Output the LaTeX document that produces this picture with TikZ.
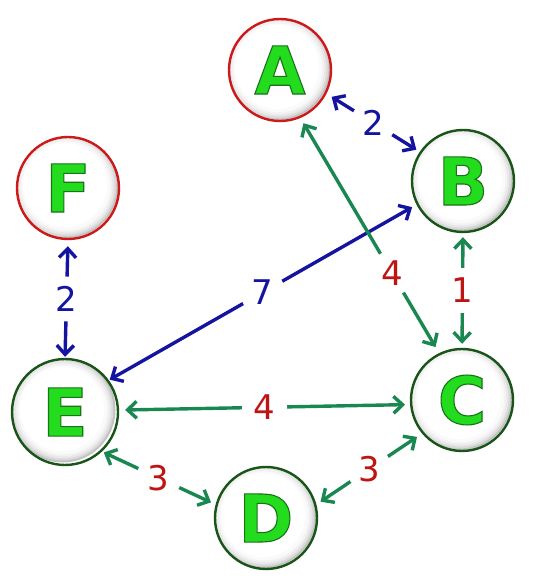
\documentclass[tikz,border=0pt]{standalone}
\usepackage{fontspec}
\setsansfont{DejaVu Sans}
\usetikzlibrary{arrows.meta}
\definecolor{ringgreen}{RGB}{25,85,25}
\definecolor{ringred}{RGB}{205,25,25}
\definecolor{lettergreen}{RGB}{35,220,30}
\definecolor{edgeblue}{RGB}{20,20,160}
\definecolor{edgegreen}{RGB}{25,135,80}
\definecolor{numred}{RGB}{190,20,20}
% green letter with a dark green rim
\newcommand{\rimtext}[1]{\special{pdf:literal direct 0.1 0.45 0.1 RG 1.1 w 2 Tr}#1\special{pdf:literal direct 0 Tr}}

\begin{document}
\begin{tikzpicture}[x=1pt,y=1pt,
  vtx/.style={circle,draw=ringgreen,line width=2.4pt,minimum size=102pt,inner sep=0pt,
    fill=white,text=lettergreen,font=\fontsize{66}{66}\selectfont\sffamily\bfseries,
    path picture={\foreach \r/\g in {1.0/24,0.96/15,0.92/9,0.88/5,0.84/2}
      \fill[black!\g] ([shift={(-2.5*\r,2.5*\r)}]path picture bounding box.center) circle ({\r*53pt});
      \fill[white] ([shift={(-3,3)}]path picture bounding box.center) circle (42pt);}},
  vtxred/.style={vtx,draw=ringred},
  link/.style={line width=3.4pt,{Straight Barb[length=9pt,width=17pt]}-{Straight Barb[length=9pt,width=17pt]}},
  bluelink/.style={link,draw=edgeblue},
  greenlink/.style={link,draw=edgegreen},
  wlab/.style={circle,fill=white,inner sep=0pt,minimum size=45pt,font=\fontsize{34}{34}\selectfont\sffamily},
  bluenum/.style={wlab,text=edgeblue},
  rednum/.style={wlab,text=numred}]
\useasboundingbox (0,0) rectangle (532,580);
% vertices
\node[vtxred] (A) at (280,510) {\rimtext{A}};
\node[vtx] (B) at (463,399) {\rimtext{B}};
\node[vtx] (C) at (462,180) {\rimtext{C}};
\node[vtx] (D) at (266,62) {\rimtext{D}};
\node[vtx,minimum size=106pt] (E) at (65,168) {\rimtext{E}};
\node[vtxred] (F) at (68,392) {\rimtext{F}};
% weighted links
\draw[bluelink,shorten <=6pt,shorten >=4pt] (A.-27) -- node[bluenum] {2} (B.146);
\draw[bluelink,shorten <=6pt,shorten >=1pt] (F.-90) -- node[bluenum] {2} (E.90);
\draw[bluelink,shorten <=5pt,shorten >=1pt] (B.207) -- node[bluenum] {7} (E.36);
\draw[greenlink,shorten <=6pt,shorten >=7pt] (A.-67) -- node[rednum,pos=0.66] {4} (C.116);
\draw[greenlink,shorten <=4pt,shorten >=4pt] (B.-90) -- node[rednum] {1} (C.90);
\draw[greenlink,shorten <=6pt,shorten >=5pt] (E.2) -- node[rednum] {4} (C.185);
\draw[greenlink,shorten <=2pt,shorten >=5pt] (E.-47) -- node[rednum] {3} (D.165);
\draw[greenlink,shorten <=5pt,shorten >=6pt] (D.15) -- node[rednum] {3} (C.220);
\end{tikzpicture}
\end{document}
